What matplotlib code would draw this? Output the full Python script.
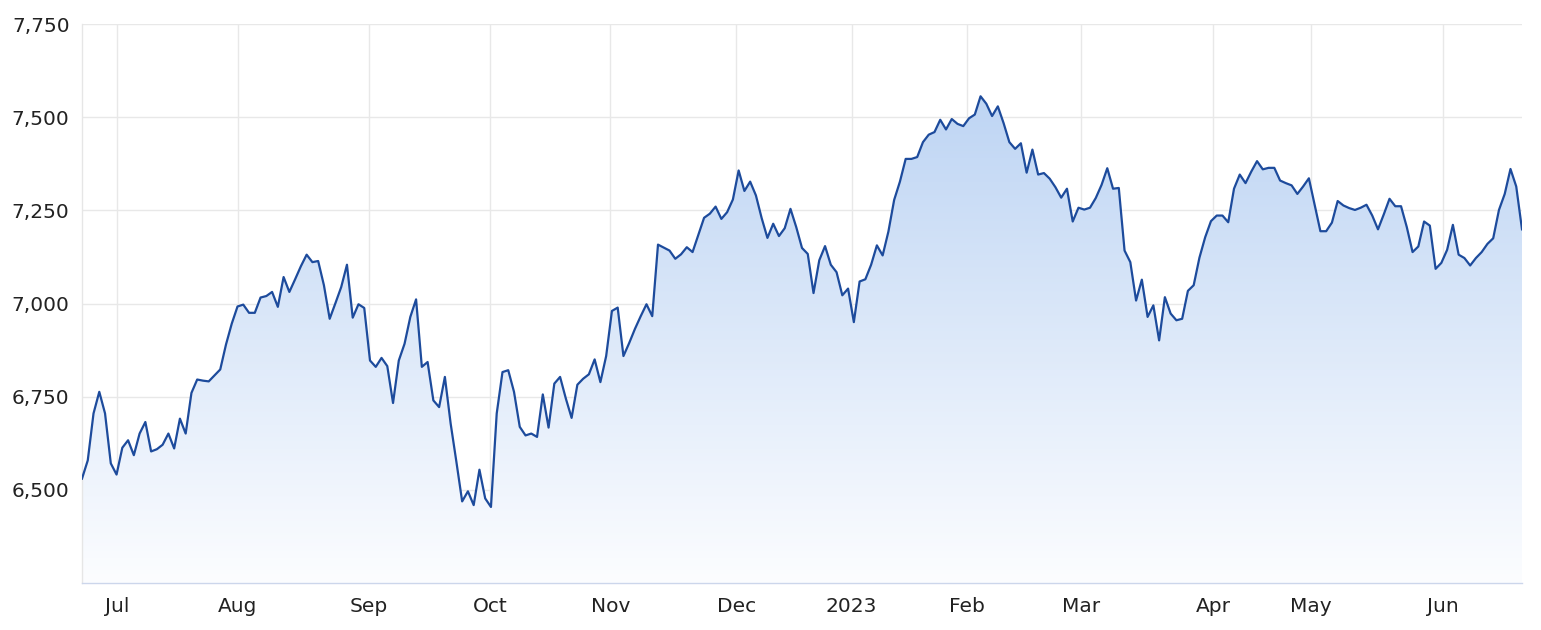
import numpy as np
import matplotlib
matplotlib.use("Agg")
import matplotlib.pyplot as plt
from matplotlib.colors import LinearSegmentedColormap
from matplotlib.patches import Polygon

# Daily closing values (Jun 2022 - Jun 2023)
values = [
    6530, 6579, 6705, 6763, 6705, 6571, 6541, 6613, 6633, 6593,
    6651, 6682, 6603, 6609, 6621, 6651, 6611, 6691, 6651, 6760,
    6796, 6793, 6791, 6807, 6823, 6890, 6946, 6992, 6997, 6975,
    6975, 7016, 7020, 7031, 6991, 7071, 7031, 7065, 7100, 7131,
    7111, 7114, 7049, 6959, 7001, 7044, 7104, 6962, 6998, 6988,
    6847, 6830, 6854, 6832, 6733, 6847, 6892, 6964, 7011, 6830,
    6843, 6740, 6722, 6803, 6678, 6575, 6469, 6496, 6459, 6554,
    6477, 6454, 6705, 6816, 6821, 6763, 6669, 6646, 6651, 6642,
    6756, 6667, 6785, 6803, 6745, 6693, 6782, 6798, 6810, 6850,
    6789, 6859, 6980, 6989, 6859, 6894, 6932, 6966, 6998, 6966,
    7158, 7150, 7142, 7120, 7132, 7151, 7138, 7184, 7230, 7241,
    7260, 7227, 7245, 7279, 7357, 7302, 7327, 7290, 7229, 7176,
    7214, 7181, 7202, 7254, 7205, 7149, 7133, 7028, 7116, 7154,
    7104, 7084, 7022, 7040, 6950, 7059, 7065, 7104, 7156, 7129,
    7193, 7278, 7327, 7388, 7388, 7393, 7433, 7453, 7460, 7493,
    7467, 7495, 7482, 7476, 7497, 7507, 7556, 7536, 7503, 7529,
    7484, 7433, 7415, 7430, 7351, 7413, 7346, 7350, 7335, 7312,
    7284, 7308, 7220, 7257, 7252, 7257, 7283, 7318, 7363, 7308,
    7310, 7142, 7111, 7008, 7064, 6964, 6995, 6901, 7017, 6973,
    6955, 6959, 7034, 7049, 7123, 7178, 7221, 7236, 7236, 7218,
    7308, 7346, 7323, 7354, 7382, 7360, 7364, 7364, 7330, 7323,
    7317, 7294, 7314, 7336, 7265, 7194, 7194, 7217, 7275, 7263,
    7256, 7251, 7257, 7265, 7236, 7199, 7239, 7281, 7261, 7261,
    7205, 7138, 7153, 7220, 7209, 7093, 7109, 7144, 7211, 7131,
    7122, 7102, 7122, 7138, 7160, 7175, 7251, 7294, 7361, 7314,
    7199,
]

month_labels = ["Jul", "Aug", "Sep", "Oct", "Nov", "Dec", "2023",
                "Feb", "Mar", "Apr", "May", "Jun"]
# month starts on the trading-day axis (first trading day of each month)
month_index = [6.1, 27.0, 49.8, 70.8, 91.7, 113.6, 133.6, 153.7, 173.4,
               196.4, 213.4, 236.2]

y_ticks = [6500, 6750, 7000, 7250, 7500, 7750]
y_min, y_max = 6250, 7750

W, H = 1541, 630
fig = plt.figure(figsize=(W / 100, H / 100), dpi=100)
ax = fig.add_axes([82 / W, 1 - 583 / H, (1522 - 82) / W, (583 - 24) / H])

x = np.arange(len(values))
n_last = len(values) - 1

# gradient area fill
grad = np.linspace(0, 1, 256).reshape(-1, 1)
cmap = LinearSegmentedColormap.from_list("g", ["#fcfdff", "#b5cff2"])
im = ax.imshow(grad, extent=[0, n_last, y_min, y_max], origin="lower",
               aspect="auto", cmap=cmap, zorder=1, interpolation="bilinear")
verts = [(0, y_min)] + list(zip(x, values)) + [(n_last, y_min)]
poly = Polygon(verts, closed=True, facecolor="none", edgecolor="none")
ax.add_patch(poly)
im.set_clip_path(poly)

ax.plot(x, values, color="#1d4b9c", lw=1.6, zorder=3, solid_joinstyle="round")

ax.set_xlim(0, n_last)
ax.set_ylim(y_min, y_max)
ax.set_xticks(month_index)
ax.set_xticklabels(month_labels)
ax.set_yticks(y_ticks)
ax.set_yticklabels([f"{v:,}" for v in y_ticks])

ax.grid(True, color="#e8e8e8", lw=1.0, zorder=0)
ax.set_axisbelow(True)
for s in ["top", "right"]:
    ax.spines[s].set_visible(False)
ax.spines["left"].set_color("#e6e6e6")
ax.spines["bottom"].set_color("#ccd6eb")
ax.spines["left"].set_linewidth(1.0)
ax.spines["bottom"].set_linewidth(1.0)

ax.tick_params(axis="both", length=0, labelsize=14.5, colors="#333333")
ax.tick_params(axis="y", pad=9)
ax.tick_params(axis="x", pad=10)
for lbl in ax.get_xticklabels() + ax.get_yticklabels():
    lbl.set_color("#222222")

fig.savefig("out.png", dpi=100)
